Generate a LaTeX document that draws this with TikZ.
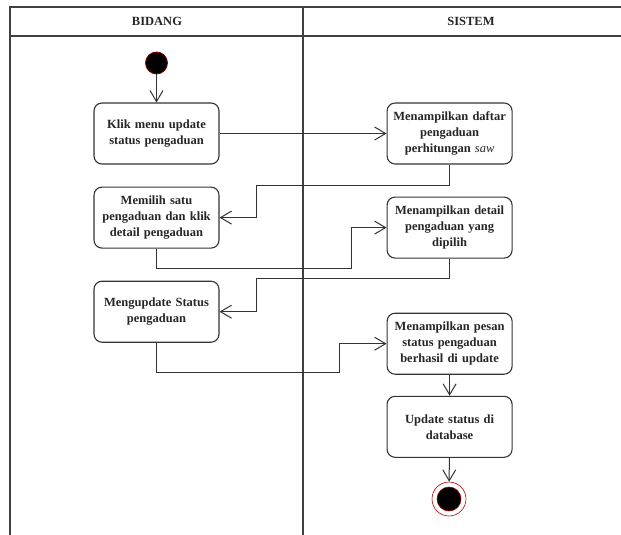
\documentclass[tikz,border=0pt]{standalone}
\usepackage{fontspec}
\setmainfont{Liberation Serif}
\usepackage{tikz}
\usetikzlibrary{positioning,arrows.meta}

\tikzset{
  aksi/.style={draw=black!80, line width=1.1pt, rounded corners=8pt, fill=white,
    minimum width=125pt, minimum height=61pt, text width=118pt, align=center,
    font=\fontsize{12.5}{16}\selectfont\bfseries, text=black!85},
  alur/.style={draw=black!80, line width=1pt, -{Straight Barb[length=11pt,width=13pt]}},
  garis/.style={draw=black!75, line width=1.3pt},
  judul/.style={font=\fontsize{12.5}{15}\selectfont\bfseries, text=black!85}
}

\begin{document}
\begin{tikzpicture}[x=1pt,y=-1pt]
    \useasboundingbox (0,0) rectangle (621,535);
    % swimlanes
    \draw [garis] (10,535) -- (10,7) -- (621,7);
    \draw [garis] (10,36) -- (621,36);
    \draw [garis] (303,7) -- (303,535);
    \node [judul] (bidang) at (157,21.5) {BIDANG};
    \node [judul] (sistem) at (471,21.5) {SISTEM};

    % bidang
    \node (mulai) [circle, fill=black, draw=red!50!black, line width=0.8pt, minimum size=22pt, inner sep=0pt] at (156.5,63) {};
    \node (A1) [aksi] at (156.5,133.5) {Klik menu update\\status pengaduan};
    \node (A2) [aksi, below=22pt of A1] {Memilih satu\\pengaduan dan klik\\detail pengaduan};
    \node (A3) [aksi, below=32pt of A2] {Mengupdate Status\\pengaduan};

    % sistem
    \node (S1) [aksi, right=167pt of A1] {Menampilkan daftar\\pengaduan\\perhitungan {\mdseries\itshape saw}};
    \node (S2) [aksi, below=32pt of S1] {Menampilkan detail\\pengaduan yang\\dipilih};
    \node (S3) [aksi, below=54pt of S2] {Menampilkan pesan\\status pengaduan\\berhasil di update};
    \node (S4) [aksi, below=21pt of S3] {Update status di\\database};
    \node (akhir) [circle, draw=red!70!black, line width=0.6pt, fill=white, minimum size=34pt, inner sep=0pt] at (449,499) {};
    \node (akhirdalam) [circle, fill=black, draw=red!60!black, line width=0.6pt, minimum size=24pt, inner sep=0pt] at (akhir) {};

    % alur
    \draw [alur] (mulai) -- (A1);
    \draw [alur] (A1) -- (S1);
    \draw [alur] (S1.south) |- (256,185) |- (A2.east);
    \draw [alur] (A2.south) |- (351,268) |- (S2.west);
    \draw [alur] (S2.south) |- (256,278) |- (A3.east);
    \draw [alur] (A3.south) |- (339,372) |- (S3.west);
    \draw [alur] (S3) -- (S4);
    \draw [alur] (S4) -- (akhir);
\end{tikzpicture}
\end{document}
